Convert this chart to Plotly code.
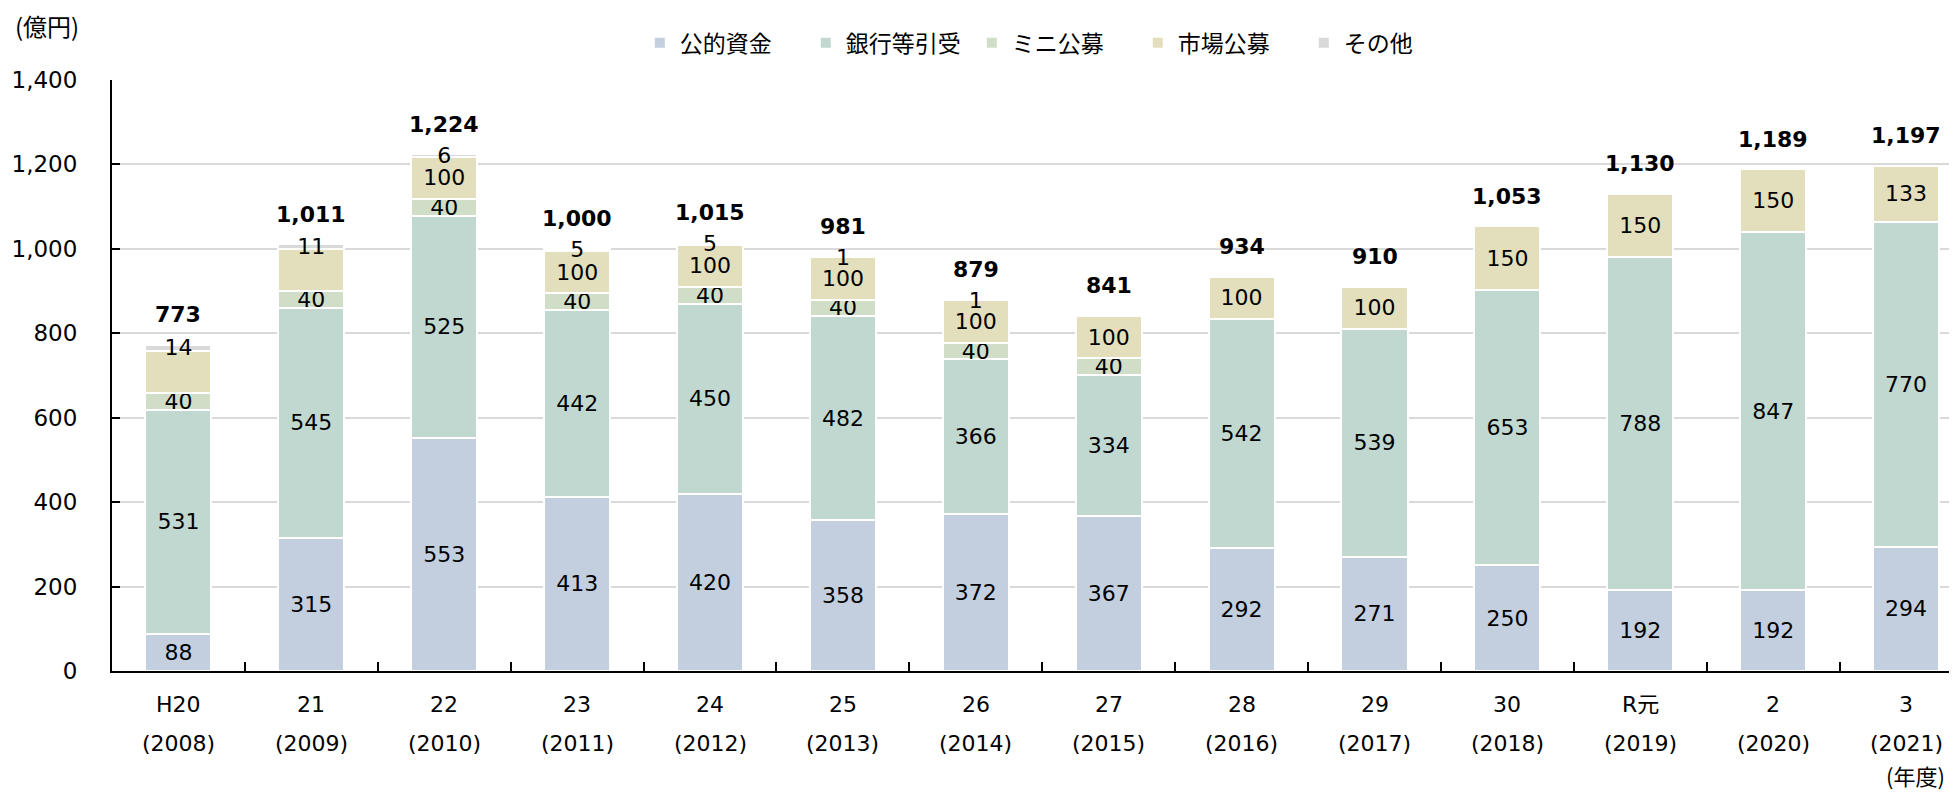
import plotly.graph_objects as go

# ---- data ----
era_labels = ["H20", "21", "22", "23", "24", "25", "26", "27", "28", "29", "30", "R元", "2", "3"]
year_labels = ["(2008)", "(2009)", "(2010)", "(2011)", "(2012)", "(2013)", "(2014)",
               "(2015)", "(2016)", "(2017)", "(2018)", "(2019)", "(2020)", "(2021)"]

public_funds = [88, 315, 553, 413, 420, 358, 372, 367, 292, 271, 250, 192, 192, 294]
bank_underwriting = [531, 545, 525, 442, 450, 482, 366, 334, 542, 539, 653, 788, 847, 770]
mini_public = [40, 40, 40, 40, 40, 40, 40, 40, 0, 0, 0, 0, 0, 0]
market_public = [100, 100, 100, 100, 100, 100, 100, 100, 100, 100, 150, 150, 150, 133]
others = [14, 11, 6, 5, 5, 1, 1, 0, 0, 0, 0, 0, 0, 0]
totals = [773, 1011, 1224, 1000, 1015, 981, 879, 841, 934, 910, 1053, 1130, 1189, 1197]

# value labels not printed in the original for these categories (market public offering)
market_label_hidden = ["H20", "21"]

series = [
    ("公的資金", public_funds, "#C3CFDF", []),
    ("銀行等引受", bank_underwriting, "#C1D8D1", []),
    ("ミニ公募", mini_public, "#D0DEC8", []),
    ("市場公募", market_public, "#E3DFBD", market_label_hidden),
    ("その他", others, "#D9D9D9", []),
]

NUM_FONT = "DejaVu Sans, Noto Sans CJK JP, sans-serif"
JP_FONT = "Noto Sans CJK JP, DejaVu Sans, sans-serif"

idx = list(range(len(era_labels)))

fig = go.Figure()
for name, vals, color, hidden in series:
    texts = ["" if (v == 0 or c in hidden) else f"{v:,}" for c, v in zip(era_labels, vals)]
    fig.add_trace(go.Bar(
        name=name, x=idx, y=vals,
        marker=dict(color=color, line=dict(color="white", width=2)),
        text=texts, textposition="inside", insidetextanchor="middle", textangle=0,
        textfont=dict(family=NUM_FONT, size=22, color="#000000"),
        hoverinfo="skip",
    ))

annotations = []
for i, t in zip(idx, totals):
    annotations.append(dict(
        x=i, y=t, xref="x", yref="y", text=f"<b>{t:,}</b>", showarrow=False,
        yanchor="middle", yshift=30,
        font=dict(family=NUM_FONT, size=22, color="#000000"),
    ))
for i, el, yl in zip(idx, era_labels, year_labels):
    annotations.append(dict(
        x=i, y=0, xref="x", yref="paper", text=el, showarrow=False,
        yanchor="middle", yshift=-33,
        font=dict(family=NUM_FONT, size=22, color="#000000"),
    ))
    annotations.append(dict(
        x=i, y=0, xref="x", yref="paper", text=yl, showarrow=False,
        yanchor="middle", yshift=-72,
        font=dict(family=NUM_FONT, size=22, color="#000000"),
    ))
annotations.append(dict(
    x=-0.035, y=1.093, xref="paper", yref="paper", text="(億円)", showarrow=False,
    xanchor="center", yanchor="middle",
    font=dict(family=JP_FONT, size=24, color="#000000"),
))
annotations.append(dict(
    x=idx[-1], y=0, xref="x", yref="paper", text="(年度)", showarrow=False,
    xanchor="center", yanchor="middle", xshift=9, yshift=-104,
    font=dict(family=JP_FONT, size=22, color="#000000"),
))

fig.update_layout(
    width=1949, height=784,
    margin=dict(l=104, r=0, t=72, b=121),
    barmode="stack", bargap=0.503,
    plot_bgcolor="white", paper_bgcolor="white",
    uniformtext=dict(mode="show", minsize=22),
    showlegend=True,
    legend=dict(
        orientation="h", x=0.511, xanchor="center", y=1.063, yanchor="middle",
        font=dict(family=JP_FONT, size=23, color="#000000"),
        entrywidth=121, entrywidthmode="pixels", traceorder="normal",
        bgcolor="rgba(0,0,0,0)",
    ),
    annotations=annotations,
    xaxis=dict(
        range=[-0.5, 13.383],
        tickmode="array", tickvals=[i + 0.5 for i in idx[:-1]],
        ticktext=[""] * (len(idx) - 1),
        ticks="inside", ticklen=9, tickwidth=2, tickcolor="#000000",
        showline=True, linecolor="#000000", linewidth=2,
        showgrid=False, zeroline=False,
    ),
    yaxis=dict(
        range=[0, 1400], tickvals=[0, 200, 400, 600, 800, 1000, 1200, 1400],
        tickformat=",d",
        showline=True, linecolor="#000000", linewidth=2,
        ticks="inside", ticklen=8, tickwidth=2, tickcolor="#000000",
        tickfont=dict(family=NUM_FONT, size=23, color="#000000"),
        ticklabelstandoff=28,
        showgrid=True, gridcolor="#D9D9D9", gridwidth=2,
        zeroline=False,
    ),
)

fig.write_html("out.html")
